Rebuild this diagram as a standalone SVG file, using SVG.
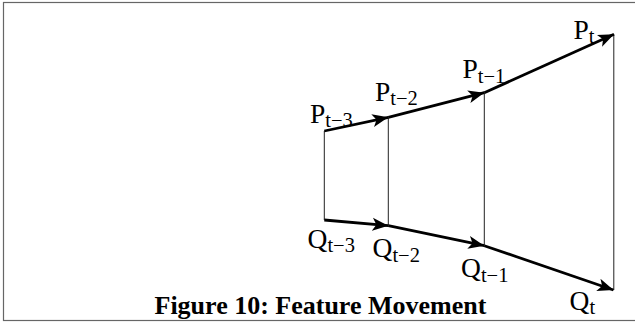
<svg xmlns="http://www.w3.org/2000/svg" width="635" height="322" viewBox="0 0 635 322">
<style>
.lbl{font-family:"Liberation Serif","Times New Roman",serif;font-size:27.5px;fill:#000}
.sub{font-size:20.5px}
.cap{font-family:"Liberation Serif","Times New Roman",serif;font-size:26px;font-weight:bold;fill:#000}
.vl{stroke:#222;stroke-width:1;fill:none}
.ar{stroke:#000;stroke-width:2.8;fill:none;marker-end:url(#ah)}
</style>
<defs>
<marker id="ah" markerUnits="userSpaceOnUse" markerWidth="18" markerHeight="14" refX="16" refY="7" orient="auto">
<path d="M0,0.5 L16,7 L0,13.5 L4,7 z" fill="#000"/>
</marker>
</defs>
<rect x="3.5" y="2.5" width="640" height="318" fill="#fff" stroke="#666" stroke-width="1.2"/>
<g id="verticals">
<line class="vl" x1="324.3" y1="131" x2="324.3" y2="220"/>
<line class="vl" x1="388.3" y1="117.3" x2="388.3" y2="225.7"/>
<line class="vl" x1="484.3" y1="92.7" x2="484.3" y2="245.7"/>
<line class="vl" x1="613.8" y1="34.3" x2="613.8" y2="290"/>
</g>
<g id="connectors">
<line class="ar" x1="324.3" y1="131" x2="388.3" y2="117.3"/>
<line class="ar" x1="388.3" y1="117.3" x2="484.3" y2="92.7"/>
<line class="ar" x1="484.3" y1="92.7" x2="614" y2="34.3"/>
<line class="ar" x1="324.3" y1="220" x2="388.3" y2="225.7"/>
<line class="ar" x1="388.3" y1="225.7" x2="484.3" y2="245.7"/>
<line class="ar" x1="484.3" y1="245.7" x2="613.5" y2="290"/>
</g>
<g id="P_t-3"><text class="lbl" x="310" y="122.7">P<tspan class="sub" dy="4.5">t−3</tspan></text></g>
<g id="P_t-2"><text class="lbl" x="375" y="100.5">P<tspan class="sub" dy="4.5">t−2</tspan></text></g>
<g id="P_t-1"><text class="lbl" x="462.5" y="78">P<tspan class="sub" dy="4.5">t−1</tspan></text></g>
<g id="P_t"><text class="lbl" x="573.5" y="38.5">P<tspan class="sub" dy="4.5">t</tspan></text></g>
<g id="Q_t-3"><text class="lbl" x="307.5" y="247.5">Q<tspan class="sub" dy="4.5">t−3</tspan></text></g>
<g id="Q_t-2"><text class="lbl" x="372.5" y="257">Q<tspan class="sub" dy="4.5">t−2</tspan></text></g>
<g id="Q_t-1"><text class="lbl" x="461" y="277">Q<tspan class="sub" dy="4.5">t−1</tspan></text></g>
<g id="Q_t"><text class="lbl" x="569.5" y="309.5">Q<tspan class="sub" dy="4.5">t</tspan></text></g>
<text class="cap" x="154.5" y="313.5">Figure 10: Feature Movement</text>
</svg>
